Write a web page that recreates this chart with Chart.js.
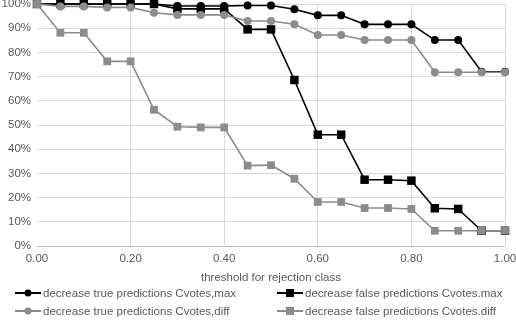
<!DOCTYPE html>
<html>
<head>
<meta charset="utf-8">
<script src="https://cdn.jsdelivr.net/npm/chart.js@4.4.0/dist/chart.umd.min.js"></script>
<style>
  html, body { margin: 0; padding: 0; background: #fff; }
  #wrap { position: relative; width: 516px; height: 320px; overflow: hidden; }
  #c { position: absolute; left: 0; top: 0; }
  .lg { position: absolute; font-family: "Liberation Sans", Arial, sans-serif; font-size: 11.5px; color: #595959; white-space: nowrap; line-height: 14px; }
  .lg svg { vertical-align: middle; margin-right: 2px; position: relative; top: -1px; }
</style>
</head>
<body>
<div id="wrap">
  <canvas id="c" width="516" height="320"></canvas>
  <div id="legend"></div>
</div>
<script>
// ---- data ----
const thresholds = [0, 0.05, 0.10, 0.15, 0.20, 0.25, 0.30, 0.35, 0.40, 0.45, 0.50, 0.55, 0.60, 0.65, 0.70, 0.75, 0.80, 0.85, 0.90, 0.95, 1.00];
const trueMax   = [100, 100, 100, 100, 100, 100, 99.2, 99.2, 99.2, 99.4, 99.4, 97.8, 95.3, 95.3, 91.6, 91.6, 91.6, 85.1, 85.1, 72.0, 72.0];
const falseMax  = [100, 100, 100, 100, 100, 100, 98.0, 98.0, 98.0, 89.5, 89.5, 68.6, 46.0, 46.0, 27.4, 27.4, 27.0, 15.6, 15.3, 6.3, 6.3];
const trueDiff  = [100, 99.0, 99.0, 98.6, 98.6, 96.4, 95.5, 95.5, 95.5, 93.0, 93.0, 91.6, 87.2, 87.2, 85.1, 85.1, 85.1, 71.8, 71.8, 71.8, 71.8];
const falseDiff = [100, 88.1, 88.1, 76.3, 76.3, 56.3, 49.3, 49.0, 49.0, 33.2, 33.4, 27.8, 18.2, 18.2, 15.7, 15.7, 15.3, 6.3, 6.3, 6.3, 6.3];
const seriesNames = [
  "decrease true predictions Cvotes,max",
  "decrease false predictions Cvotes.max",
  "decrease true predictions Cvotes,diff",
  "decrease false predictions Cvotes.diff"
];
const xTicks = [0, 0.2, 0.4, 0.6, 0.8, 1.0];
const xTitle = "threshold for rejection class";

const BLACK = "#000000";
const GRAY = "#8c8c8c";
const TXT = "#595959";
const FONT = "'Liberation Sans', Arial, sans-serif";

function pts(vals) { return thresholds.map((t, i) => ({ x: t, y: vals[i] })); }

const styles = [
  { color: BLACK, style: "circle", r: 4 },
  { color: BLACK, style: "rect", r: 6 },
  { color: GRAY, style: "circle", r: 4 },
  { color: GRAY, style: "rect", r: 5.5 }
];
const allVals = [trueMax, falseMax, trueDiff, falseDiff];

const datasets = allVals.map((v, i) => ({
  label: seriesNames[i],
  data: pts(v),
  borderColor: styles[i].color,
  backgroundColor: styles[i].color,
  pointBackgroundColor: styles[i].color,
  pointBorderColor: styles[i].color,
  pointBorderWidth: 0,
  pointStyle: styles[i].style,
  pointRadius: styles[i].r,
  borderWidth: 1.6,
  tension: 0,
  clip: false,
  order: 4 - i
}));

new Chart(document.getElementById("c"), {
  type: "line",
  data: { datasets },
  options: {
    responsive: false,
    animation: false,
    events: [],
    layout: { autoPadding: false, padding: { top: 4, right: 11, bottom: 35, left: 0 } },
    plugins: { legend: { display: false }, tooltip: { enabled: false } },
    scales: {
      x: {
        type: "linear",
        min: 0, max: 1,
        afterBuildTicks: (ax) => { ax.ticks = xTicks.map(v => ({ value: v })); },
        afterFit: (s) => { s.height = 39; s.paddingLeft = 0; s.paddingRight = 0; },
        ticks: {
          color: TXT, font: { family: FONT, size: 11.5 }, padding: 6,
          maxRotation: 0,
          callback: (v) => Number(v).toFixed(2)
        },
        grid: {
          color: (ctx) => ctx.tick && ctx.tick.value === 0 ? "rgba(0,0,0,0)" : "#d9d9d9",
          drawTicks: false, lineWidth: 1
        },
        border: { display: false },
        title: { display: true, text: xTitle, color: TXT, font: { family: FONT, size: 11.5 }, padding: { top: 1, bottom: 0 } }
      },
      y: {
        min: 0, max: 100,
        afterFit: (s) => { s.width = 37; s.paddingTop = 0; s.paddingBottom = 0; },
        ticks: {
          stepSize: 10, color: TXT, font: { family: FONT, size: 11.5 }, padding: 6,
          callback: (v) => v + "%"
        },
        grid: {
          color: (ctx) => ctx.tick && ctx.tick.value === 0 ? "#bfbfbf" : "#d9d9d9",
          drawTicks: false, lineWidth: 1
        },
        border: { display: false }
      }
    }
  }
});

// ---- HTML legend ----
const legendPos = [
  { left: 15, top: 286 },
  { left: 277, top: 286 },
  { left: 15, top: 304 },
  { left: 277, top: 304 }
];
const lg = document.getElementById("legend");
seriesNames.forEach((name, i) => {
  const s = styles[i];
  const marker = s.style === "circle"
    ? `<circle cx="13" cy="5" r="3.5" fill="${s.color}"/>`
    : `<rect x="9" y="1" width="8" height="8" fill="${s.color}"/>`;
  const d = document.createElement("div");
  d.className = "lg";
  d.style.left = legendPos[i].left + "px";
  d.style.top = legendPos[i].top + "px";
  d.innerHTML = `<svg width="26" height="10"><line x1="0" y1="5" x2="26" y2="5" stroke="${s.color}" stroke-width="2"/>${marker}</svg>${name}`;
  lg.appendChild(d);
});
</script>
</body>
</html>
